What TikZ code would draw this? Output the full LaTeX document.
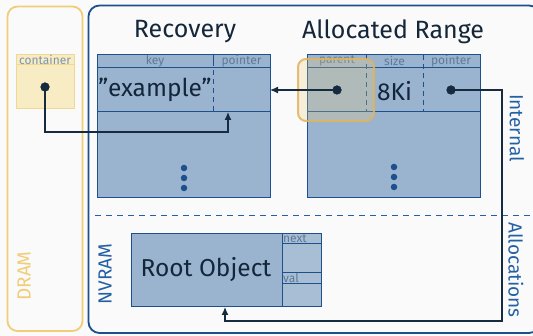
\documentclass[tikz,border=0pt]{standalone}
\usepackage{fontspec}
\setmainfont{Fira Sans}
\usetikzlibrary{arrows.meta}
\definecolor{bgc}{HTML}{FAFAFA}
\definecolor{tabfill}{HTML}{9AB4CF}
\definecolor{tabline}{HTML}{1E508E}
\definecolor{hdrtxt}{HTML}{5E7A96}
\definecolor{darktxt}{HTML}{14263A}
\definecolor{nvblue}{HTML}{1B4F8E}
\definecolor{lblblue}{HTML}{2460A4}
\definecolor{dramy}{HTML}{F0CE78}
\definecolor{contfill}{HTML}{F8ECC4}
\definecolor{contline}{HTML}{F0D890}
\definecolor{conn}{HTML}{172B40}
\definecolor{hiline}{HTML}{E2B35E}
\tikzset{
  tabbox/.style={draw=tabline, fill=tabfill, line width=1pt, inner sep=0pt, outer sep=0pt, anchor=north west},
  cellline/.style={draw=tabline, line width=1pt},
  divline/.style={draw=tabline, line width=1pt, dash pattern=on 5pt off 4pt},
  hdr/.style={text=hdrtxt, font=\fontsize{12}{12}\selectfont, inner sep=0pt},
  bigtxt/.style={text=darktxt, font=\fontsize{24.5}{24.5}\selectfont, inner sep=0pt},
  ttl/.style={text=darktxt, font=\fontsize{25}{25}\selectfont, inner sep=0pt},
  sidelbl/.style={text=lblblue, font=\fontsize{19}{19}\selectfont, inner sep=0pt},
  ptdot/.style={circle, fill=conn, inner sep=0pt, minimum size=9pt},
  vdot/.style={circle, fill=nvblue, inner sep=0pt, minimum size=6.5pt},
  connector/.style={draw=conn, line width=1.2pt},
  tip/.style={-{Latex[length=8pt,width=7pt]}}
}
\begin{document}
\begin{tikzpicture}[x=1pt,y=-1pt]
\fill[bgc] (0,0) rectangle (533,336);
\useasboundingbox (0,0) rectangle (533,336);
% DRAM and NVRAM regions
\draw[dramy, line width=1.8pt, rounded corners=10pt] (7.5,6.5) rectangle (82.5,331);
\draw[nvblue, line width=1.8pt, rounded corners=11pt] (88.5,5.5) rectangle (540,333);
\node[rotate=90, text=dramy, font=\fontsize{19}{19}\selectfont, inner sep=0pt] (dramlbl) at (24,276) {DRAM};
\node[sidelbl, rotate=90] (nvlbl) at (105,274) {NVRAM};
\node[sidelbl, rotate=-90] (intlbl) at (517,128) {Internal};
\node[sidelbl, rotate=-90] (alloclbl) at (516,270) {Allocations};
% separator
\coordinate (sepL) at (95,216);
\coordinate (sepR) at (533,216);
\draw[lblblue, line width=1pt, dash pattern=on 6pt off 5pt] (sepL) -- (sepR);
% titles
\node[ttl] (rectitle) at (185,32) {Recovery};
\node[ttl] (alloctitle) at (393,32) {Allocated Range};
% container
\node[draw=contline, fill=contfill, line width=1pt, minimum width=58pt, minimum height=54pt, inner sep=0pt, outer sep=0pt, anchor=north west] (cont) at (16,55) {};
\draw[contline, line width=1pt] (16,65) -- (74,65);
\node[text=hdrtxt!80, font=\fontsize{12}{12}\selectfont, inner sep=0pt] (conthdr) at (45,60) {container};
\node[ptdot] (cdot) at (45,87) {};
% Recovery table
\node[tabbox, minimum width=173pt, minimum height=143pt] (rec) at (97,55) {};
\draw[cellline] (97,68) -- (270,68);
\draw[cellline] (97,112) -- (270,112);
\draw[cellline] (213,55) -- (213,61);
\draw[divline] (213,61) -- (213,112);
\node[hdr] (keyhdr) at (155,61) {key};
\node[hdr] (recptrhdr) at (241.5,61) {pointer};
\node[bigtxt] (example) at (155,90) {”example”};
\node[vdot] at (184,168) {};
\node[vdot] at (184,178) {};
\node[vdot] at (184,188) {};
% Allocated Range table
\node[tabbox, minimum width=173pt, minimum height=143pt] (alloc) at (307,55) {};
\draw[cellline] (307,68) -- (480,68);
\draw[cellline] (307,112) -- (480,112);
\draw[divline] (366,55) -- (366,112);
\draw[divline] (423,55) -- (423,112);
\node[hdr] (parhdr) at (337,61) {parent};
\node[hdr] (sizehdr) at (394.5,61) {size};
\node[hdr] (aptrhdr) at (451,61) {pointer};
\node[bigtxt] (sizeval) at (394.5,91) {8Ki};
\node[vdot] at (394,167) {};
\node[vdot] at (394,177) {};
\node[vdot] at (394,187) {};
% highlight around parent
\draw[hiline, line width=2pt, rounded corners=8pt, fill=dramy, fill opacity=0.25, draw opacity=0.85] (298,59) rectangle (374,121);
\node[ptdot] (pdot) at (337,90) {};
\node[ptdot] (adot) at (451,90) {};
% Root object
\node[tabbox, minimum width=151pt, minimum height=73pt] (root) at (131,234) {};
\node[bigtxt] (roottxt) at (206,270) {Root Object};
\begin{scope}[fill opacity=0.85]
\filldraw[fill=tabfill, draw=tabline, line width=1pt] (282,234) rectangle (321,244);
\filldraw[fill=tabfill, draw=tabline, line width=1pt] (282,244) rectangle (321,273);
\filldraw[fill=tabfill, draw=tabline, line width=1pt] (282,273) rectangle (321,284);
\filldraw[fill=tabfill, draw=tabline, line width=1pt] (282,284) rectangle (321,307);
\end{scope}
\node[hdr, anchor=west] (nexthdr) at (283,239) {next};
\node[hdr, anchor=west] (valhdr) at (283,278.5) {val};
% connectors
\coordinate (c1) at (45,132);
\coordinate (c2) at (228,132);
\coordinate (recTarget) at (228,112);
\draw[connector, tip] (cdot.center) -- (c1) -- (c2) -- (recTarget);
\draw[connector, tip] (pdot.center) -- (rec.east |- pdot);
\coordinate (r1) at (502,90);
\coordinate (r2) at (502,321);
\coordinate (r3) at (225,321);
\coordinate (rootTarget) at (225,307);
\draw[connector, tip] (adot.center) -- (r1) -- (r2) -- (r3) -- (rootTarget);
\node[ptdot] at (cdot) {};
\node[ptdot] at (pdot) {};
\node[ptdot] at (adot) {};
\end{tikzpicture}
\end{document}
